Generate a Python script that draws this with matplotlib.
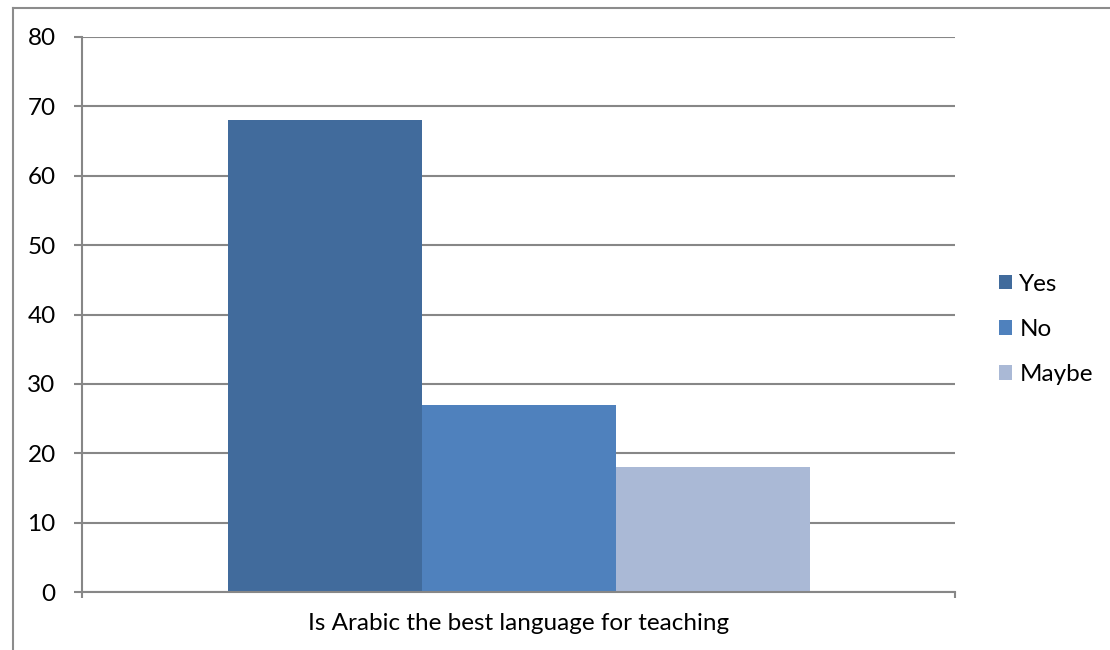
import matplotlib

matplotlib.use("Agg")
import matplotlib.pyplot as plt
from matplotlib.lines import Line2D
from matplotlib.patches import Patch

plt.rcParams["font.family"] = ["Lato", "DejaVu Sans"]

category = "Is Arabic the best language for teaching"
series = ["Yes", "No", "Maybe"]
values = [68, 27, 18]
colors = ["#416B9C", "#4F81BD", "#AAB9D6"]
yticks = [0, 10, 20, 30, 40, 50, 60, 70, 80]

grid_c = "#878787"
fs = 17.5

fig = plt.figure(figsize=(11.1, 6.5), dpi=100)
ax = fig.add_axes([0.0739, 0.0892, 0.7865, 0.8539])

# three series side by side in one category group (group takes 2/3 of width)
bw = 1 / 3 * (2 / 3)
offsets = [-bw, 0, bw]
for name, v, c, off in zip(series, values, colors, offsets):
    ax.bar(0.5 + off, v, width=bw, color=c, label=name, zorder=3)

ax.set_xlim(0, 1)
ax.set_ylim(0, 80)
ax.set_yticks(yticks)
ax.set_yticklabels([str(t) for t in yticks], fontsize=fs)
ax.tick_params(axis="y", length=6, width=1.5, color=grid_c, pad=13)
ax.set_xticks([0, 1])
ax.set_xticklabels(["", ""])
ax.tick_params(axis="x", length=4.5, width=1.5, color=grid_c)
ax.text(0.5, -0.038, category, transform=ax.transAxes, ha="center", va="top", fontsize=fs)

ax.grid(axis="y", color=grid_c, linewidth=1.5, zorder=0)
for s in ["top", "right"]:
    ax.spines[s].set_visible(False)
for s in ["left", "bottom"]:
    ax.spines[s].set_color(grid_c)
    ax.spines[s].set_linewidth(1.5)
ax.spines["bottom"].set_zorder(4)

handles = [Patch(facecolor=c, edgecolor="none") for c in colors]
fig.legend(handles, series, loc="center left", bbox_to_anchor=(0.880, 0.493),
           frameon=False, fontsize=fs, handlelength=0.55, handleheight=0.55,
           handletextpad=0.3, labelspacing=1.0)

# chart area border (left and top edges)
fig.add_artist(Line2D([13 / 1110, 13 / 1110], [0, 1 - 8 / 650], color="#8c8c8c", linewidth=1.5, transform=fig.transFigure))
fig.add_artist(Line2D([13 / 1110, 1], [1 - 8 / 650, 1 - 8 / 650], color="#8c8c8c", linewidth=1.5, transform=fig.transFigure))

fig.savefig("out.png", dpi=100)
